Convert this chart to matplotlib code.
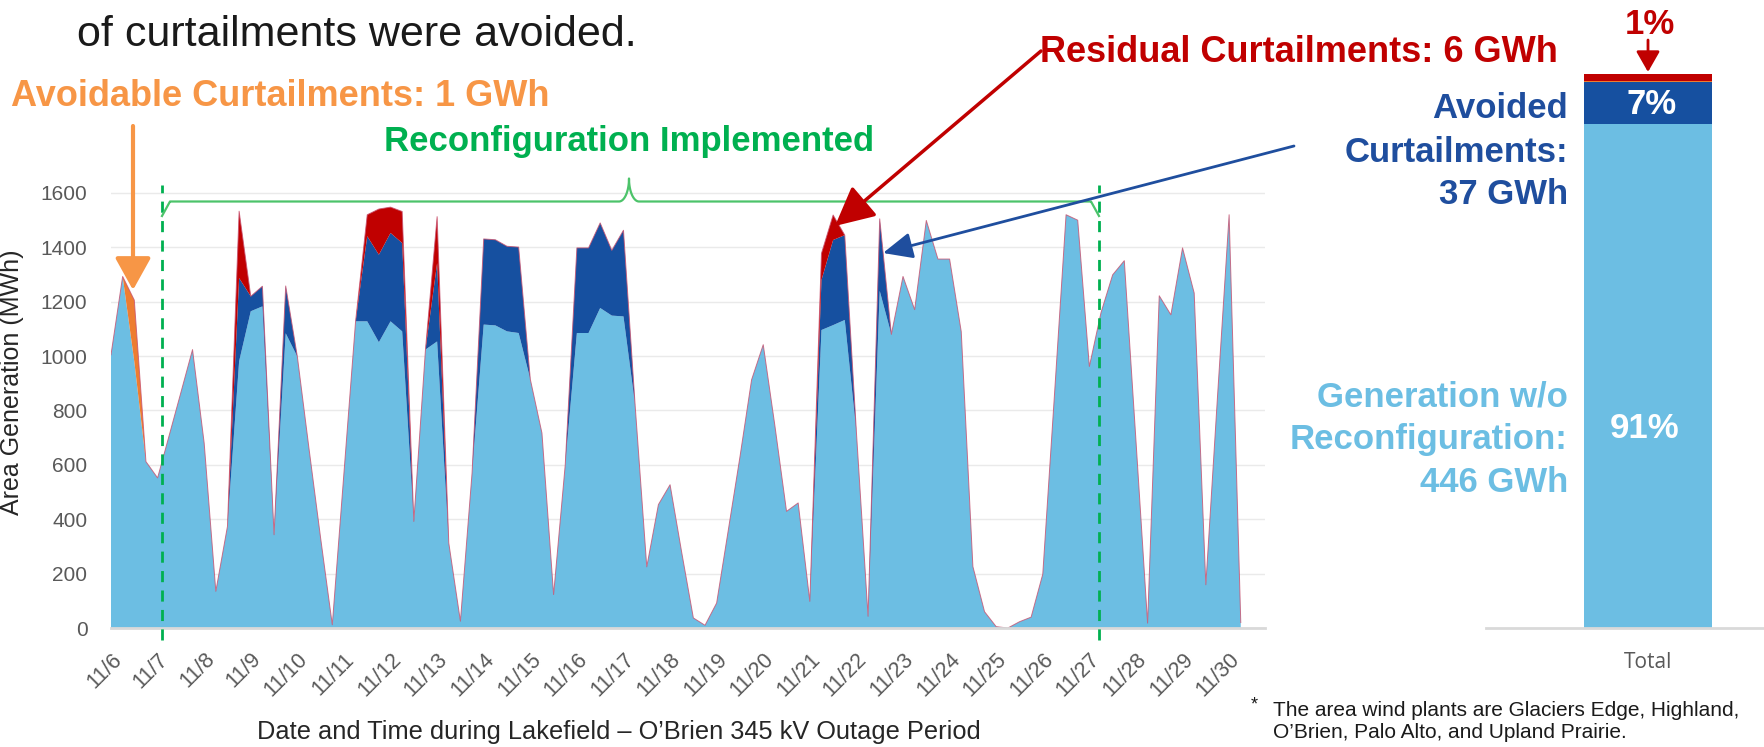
import numpy as np
import matplotlib.pyplot as plt

plt.rcParams['font.family'] = ['Liberation Sans', 'DejaVu Sans']

# 6-hourly area wind generation, 11/6 00:00 .. 11/30 06:00 (MWh)
generation = [1005, 1293, 980, 612, 552, 709, 866, 1024,
              680, 135, 374, 981, 1165, 1183, 343, 1084,
              998, 660, 330, 12, 570, 1128, 1128, 1051,
              1128, 1091, 392, 1024, 1054, 313, 25, 570,
              1116, 1113, 1091, 1085, 915, 717, 123, 600,
              1085, 1085, 1177, 1149, 1146, 820, 225, 454,
              527, 278, 37, 10, 92, 360, 629, 913,
              1042, 744, 429, 460, 98, 1096, 1114, 1133,
              720, 43, 1240, 1080, 1293, 1171, 1499, 1357,
              1357, 1090, 226, 60, 5, 0, 23, 40,
              198, 855, 1520, 1500, 962, 1160, 1299, 1351,
              690, 18, 1222, 1152, 1398, 1232, 159, 850,
              1520, 20]
avoided = [0, 0, 0, 0, 0, 0, 0, 0,
           0, 0, 0, 306, 55, 74, 0, 174,
           0, 0, 0, 0, 0, 0, 313, 322,
           325, 325, 0, 0, 288, 0, 0, 0,
           315, 315, 313, 316, 0, 0, 0, 0,
           313, 313, 313, 240, 317, 0, 0, 0,
           0, 0, 0, 0, 0, 0, 0, 0,
           0, 0, 0, 0, 0, 184, 313, 312,
           0, 0, 265, 0, 0, 0, 0, 0,
           0, 0, 0, 0, 0, 0, 0, 0,
           0, 0, 0, 0, 0, 0, 0, 0,
           0, 0, 0, 0, 0, 0, 0, 0,
           0, 0]
residual = [0, 0, 0, 0, 0, 0, 0, 0,
            0, 0, 0, 246, 0, 0, 0, 0,
            0, 0, 0, 0, 0, 0, 79, 168,
            95, 116, 0, 0, 171, 0, 0, 0,
            0, 0, 0, 0, 0, 0, 0, 0,
            0, 0, 0, 0, 0, 0, 0, 0,
            0, 0, 0, 0, 0, 0, 0, 0,
            0, 0, 0, 0, 0, 98, 92, 0,
            0, 0, 0, 0, 0, 0, 0, 0,
            0, 0, 0, 0, 0, 0, 0, 0,
            0, 0, 0, 0, 0, 0, 0, 0,
            0, 0, 0, 0, 0, 0, 0, 0,
            0, 0]
avoidable = [0, 0, 226] + [0] * 95

day_labels = ['11/%d' % d for d in range(6, 31)]
reconfig_start, reconfig_end = 1.1, 21.2   # days after 11/6 00:00

# totals (GWh) for the summary bar
bar_names = ['Generation w/o Reconfiguration', 'Avoided Curtailments',
             'Avoidable Curtailments', 'Residual Curtailments']
bar_gwh = [446, 37, 1, 6]

LBLUE = '#6CBEE3'
DBLUE = '#1650A0'
RED = '#C00000'
ORANGE = '#ED7D31'
GREEN = '#00B050'
GRAY = '#595959'

W, H = 1764, 747
fig = plt.figure(figsize=(W / 100, H / 100), dpi=100)

# ---- main area chart ----
ax = fig.add_axes([111 / W, 1 - 628 / H, 1154 / W, (628 - 165.8) / H])
x = np.arange(len(generation)) * 0.25
ax.stackplot(x, generation, avoided, residual, avoidable,
             colors=[LBLUE, DBLUE, RED, ORANGE], linewidth=0)
total = np.array(generation) + np.array(avoided) + np.array(residual) + np.array(avoidable)
ax.plot(x, total, color='#C8506E', lw=0.7, alpha=0.8)
ax.set_xlim(0, 24.77)
ax.set_ylim(0, 1700)
ax.set_yticks(range(0, 1601, 200))
ax.set_xticks(range(len(day_labels)))
ax.set_xticklabels(day_labels, rotation=45, ha='right', rotation_mode='anchor',
                   fontsize=15.5, color=GRAY)
ax.tick_params(axis='y', labelsize=15, labelcolor=GRAY, length=0, pad=17)
ax.tick_params(axis='x', length=0, pad=15)
ax.grid(axis='y', color='#EAEAEA', lw=1)
ax.set_axisbelow(True)
for s in ['top', 'right', 'left']:
    ax.spines[s].set_visible(False)
ax.spines['bottom'].set_color('#D9D9D9')
ax.spines['bottom'].set_linewidth(2)

for xv in (reconfig_start, reconfig_end):
    ax.axvline(xv, ymin=-0.026, ymax=0.958, color=GREEN, lw=2, ls=(0, (4, 3)),
               clip_on=False, zorder=5)

# ---- summary bar ----
bx = fig.add_axes([1486 / W, 1 - 628 / H, (W - 1486) / W, (628 - 74) / H])
bottom = 0
for v, c in zip(bar_gwh, [LBLUE, DBLUE, ORANGE, RED]):
    bx.bar(0, v, bottom=bottom, width=0.6, color=c)
    bottom += v
bx.set_xlim(-0.759, 0.544)
bx.set_ylim(0, sum(bar_gwh))
bx.set_yticks([])
bx.set_xticks([0])
bx.set_xticklabels(['Total'], fontsize=15, color=GRAY, family=['Open Sans', 'DejaVu Sans'])
bx.tick_params(axis='x', length=0, pad=17)
for s in ['top', 'right', 'left']:
    bx.spines[s].set_visible(False)
bx.spines['bottom'].set_color('#D9D9D9')
bx.spines['bottom'].set_linewidth(2)
bx.patch.set_alpha(0)

pct = [int(v / sum(bar_gwh) * 100) for v in bar_gwh]

# ---- overlay in pixel coordinates for annotations ----
ov = fig.add_axes([0, 0, 1, 1])
ov.set_xlim(0, W)
ov.set_ylim(H, 0)
ov.axis('off')
ov.patch.set_alpha(0)

big = dict(fontsize=25, fontweight='bold', va='center')
ov.text(77, 46, 'of curtailments were avoided.', fontsize=31, color='#1A1A1A', va='baseline')
ov.text(11, 97, 'Avoidable Curtailments: %d GWh' % bar_gwh[2], color='#F79646', ha='left',
        **dict(big, fontsize=26))
ov.text(629, 141, 'Reconfiguration Implemented', color=GREEN, ha='center', **big)
ov.text(1558, 52, 'Residual Curtailments: %d GWh' % bar_gwh[3], color=RED, ha='right',
        **dict(big, fontsize=26))

ov.text(1568, 108, 'Avoided', color='#1F4E9E', ha='right', **big)
ov.text(1568, 152, 'Curtailments:', color='#1F4E9E', ha='right', **big)
ov.text(1568, 194, '%d GWh' % bar_gwh[1], color='#1F4E9E', ha='right', **big)
ov.text(1568, 397, 'Generation w/o', color=LBLUE, ha='right', **big)
ov.text(1568, 440, 'Reconfiguration:', color=LBLUE, ha='right', **big)
ov.text(1568, 483, '%d GWh' % bar_gwh[0], color=LBLUE, ha='right', **big)

ov.text(1650, 25, '%d%%' % pct[3], color=RED, ha='center', **big)
ov.text(1652, 105, '%d%%' % pct[1], color='white', ha='center', **big)
ov.text(1645, 428, '%d%%' % pct[0], color='white', ha='center', **big)

# arrows
ov.annotate('', xy=(133, 290), xytext=(133, 126),
            arrowprops=dict(arrowstyle='-|>,head_length=0.9,head_width=0.5',
                            color='#F79646', lw=3, mutation_scale=22, shrinkA=0, shrinkB=0))
ov.annotate('', xy=(835, 226), xytext=(1041, 51),
            arrowprops=dict(arrowstyle='-|>,head_length=1.0,head_width=0.5',
                            color=RED, lw=2.5, mutation_scale=24, shrinkA=0, shrinkB=0))
ov.annotate('', xy=(883, 253), xytext=(1294, 146),
            arrowprops=dict(arrowstyle='-|>,head_length=0.9,head_width=0.4',
                            color='#1F4E9E', lw=2, mutation_scale=20, shrinkA=0, shrinkB=0))
ov.annotate('', xy=(1648, 72), xytext=(1648, 40),
            arrowprops=dict(arrowstyle='-|>,head_length=0.7,head_width=0.4',
                            color=RED, lw=2, mutation_scale=18, shrinkA=0, shrinkB=0))

# curly brace over the reconfiguration window
yb = 201.5
t = np.linspace(0, 1, 20)
left = np.column_stack([162 + 8 * np.sin(t * np.pi / 2), 216 - 14.5 * np.sin(t * np.pi / 2)])
mid_l = np.column_stack([619 + 10 * np.sin(t * np.pi / 2), yb - 23 * (1 - np.cos(t * np.pi / 2))])
mid_r = np.column_stack([629 + 10 * (1 - np.cos(t * np.pi / 2)), 178.5 + 23 * np.sin(t * np.pi / 2)])
right = np.column_stack([1091 + 8 * (1 - np.cos(t * np.pi / 2)), yb + 14.5 * (1 - np.cos(t * np.pi / 2))])
brace = np.vstack([left, mid_l, mid_r, right])
ov.plot(brace[:, 0], brace[:, 1], color='#4CC36A', lw=1.6)

ov.text(12, 382, 'Area Generation (MWh)', rotation=90, fontsize=18, color='#262626',
        ha='center', va='center')
ov.text(619, 732, 'Date and Time during Lakefield \u2013 O\u2019Brien 345 kV Outage Period',
        fontsize=18.3, color='#262626', ha='center', va='center')

ov.text(1251, 705, '*', fontsize=13, color='#1A1A1A', ha='left', va='center')
ov.text(1273, 710, 'The area wind plants are Glaciers Edge, Highland,',
        fontsize=15, color='#1A1A1A', ha='left', va='center')
ov.text(1273, 732, 'O\u2019Brien, Palo Alto, and Upland Prairie.',
        fontsize=15, color='#1A1A1A', ha='left', va='center')

fig.savefig('out.png', dpi=100)
